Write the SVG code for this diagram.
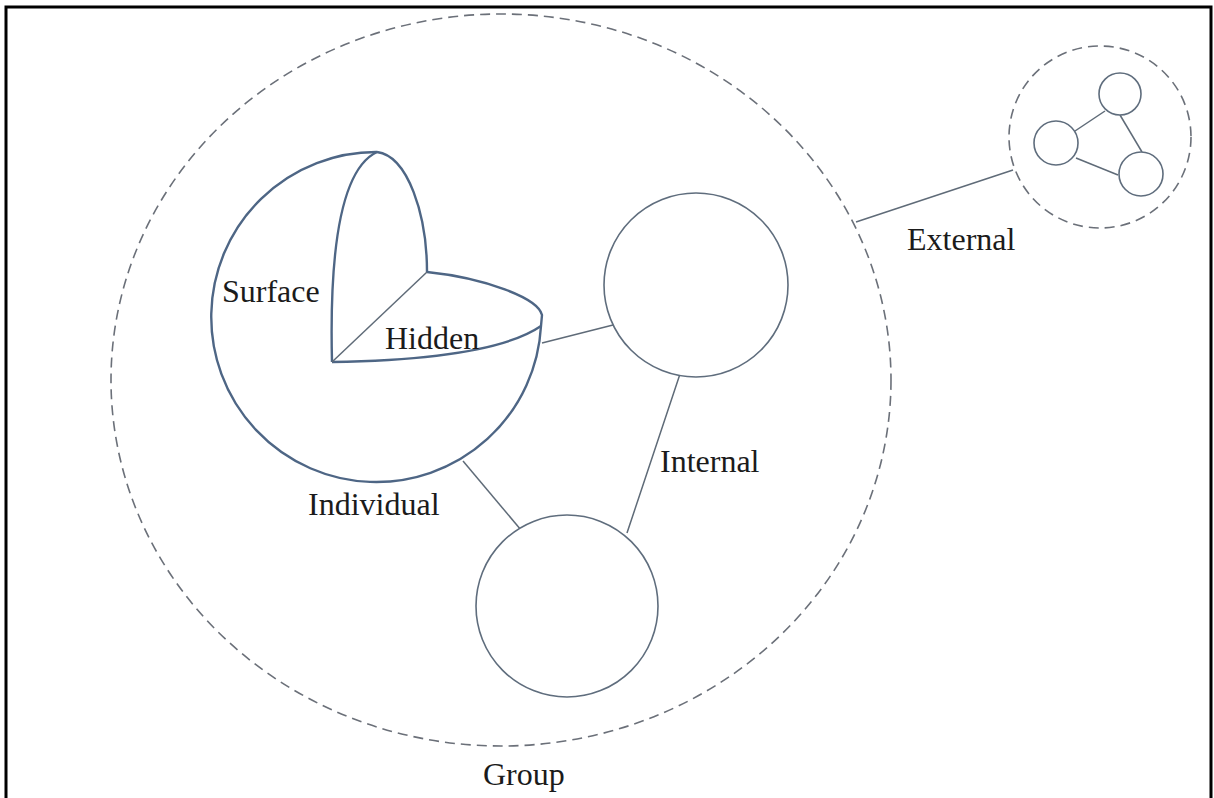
<svg xmlns="http://www.w3.org/2000/svg" width="1214" height="798" viewBox="0 0 1214 798">
  <style>
    .frame { fill: none; stroke: #000; stroke-width: 3; }
    .dash { fill: none; stroke: #6b7079; stroke-width: 1.6; stroke-dasharray: 10 6; }
    .node { fill: #fff; stroke: #5f6d7d; stroke-width: 1.6; }
    .sphere { fill: none; stroke: #4e6685; stroke-width: 2.4; stroke-linejoin: round; }
    .edge { fill: none; stroke: #5f6b78; stroke-width: 1.5; }
    .label { font-family: "Liberation Serif", "Times New Roman", serif; font-size: 32px; fill: #1b1b1b; }
  </style>

  <rect width="1214" height="798" fill="#fff"/>
  <!-- page frame (open at the bottom) -->
  <path class="frame" d="M6,800 V7 H1211 V800"/>

  <!-- group boundary -->
  <g id="group">
    <ellipse class="dash" cx="501" cy="380" rx="390" ry="366"/>
    <text class="label" x="483" y="785">Group</text>
  </g>

  <!-- connectors -->
  <g id="connectors">
    <line class="edge" x1="542" y1="343" x2="613" y2="325"/>
    <line class="edge" x1="463" y1="461" x2="521" y2="530"/>
    <line class="edge" x1="680" y1="374" x2="627" y2="533"/>
    <line class="edge" x1="856" y1="222" x2="1013" y2="170"/>
    <line class="edge" x1="1075" y1="131" x2="1105" y2="111"/>
    <line class="edge" x1="1120" y1="115" x2="1142" y2="152"/>
    <line class="edge" x1="1076" y1="158" x2="1118" y2="175"/>
  </g>

  <!-- individual: cut-away sphere -->
  <g id="individual">
    <path class="sphere" d="M377,152 A165,165 0 1 0 541,326"/>
    <path class="sphere" d="M377,152 C408,156 427,215 427,272"/>
    <path class="sphere" d="M377,152 C343,168 329,240 332,362"/>
    <path class="sphere" d="M427,272 C485,278 538,298 542,315 L541,326"/>
    <path class="sphere" d="M541,326 C512,346 450,360 332,362"/>
    <line class="edge" x1="332" y1="362" x2="427" y2="272"/>
    <text class="label" x="222" y="302">Surface</text>
    <text class="label" x="385" y="349">Hidden</text>
    <text class="label" x="308" y="515">Individual</text>
  </g>

  <g id="member-a">
    <circle class="node" cx="696" cy="285" r="92"/>
  </g>

  <g id="member-b">
    <circle class="node" cx="567" cy="606" r="91"/>
    <text class="label" x="660" y="472">Internal</text>
  </g>

  <!-- external group -->
  <g id="external">
    <circle class="dash" cx="1100" cy="137" r="91"/>
    <circle class="node" cx="1120" cy="94" r="21"/>
    <circle class="node" cx="1056" cy="143" r="22"/>
    <circle class="node" cx="1141" cy="174" r="22"/>
    <text class="label" x="907" y="250">External</text>
  </g>
</svg>
